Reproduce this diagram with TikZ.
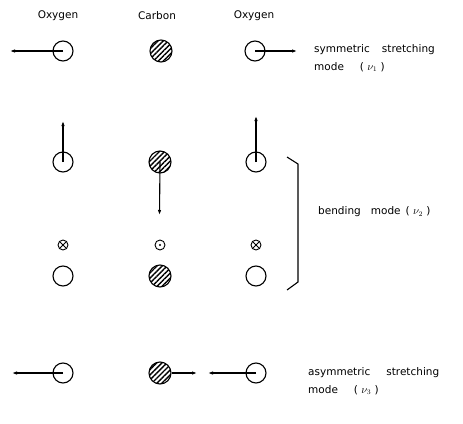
\documentclass[tikz,border=0pt]{standalone}
\usepackage{fontspec}
\setmainfont{DejaVu Sans}
\usetikzlibrary{arrows.meta,patterns.meta}
\tikzset{
  oxy/.style={circle,draw,line width=1.1pt,minimum size=20pt,inner sep=0pt},
  carb/.style={circle,draw,line width=1.1pt,minimum size=22pt,inner sep=0pt,
    pattern={Lines[angle=45,distance=3.6pt,line width=1.4pt]}},
  mark0/.style={circle,draw,line width=0.9pt,minimum size=10pt,inner sep=0pt},
  vec/.style={line width=1.1pt,-{Latex[length=5pt,width=3.5pt]}},
  lbl/.style={font=\fontsize{10.5}{12}\selectfont,inner sep=0pt},
  txt/.style={font=\fontsize{10.5}{12}\selectfont,inner sep=0pt,anchor=west}
}
\begin{document}
\begin{tikzpicture}[x=1pt,y=-1pt]
\useasboundingbox (0,0) rectangle (463,423);
% labels
\node[lbl] (l1) at (58,16) {Oxygen};
\node[lbl] (l2) at (157,16) {Carbon};
\node[lbl] (l3) at (254,16) {Oxygen};
% row 1
\node[oxy] (a1) at (63,51) {};
\node[carb] (a2) at (161,51) {};
\node[oxy] (a3) at (255,51) {};
\coordinate (a1e) at (10,51);
\coordinate (a3e) at (297,51);
\draw[vec] (a1.center) -- (a1e);
\draw[vec] (a3.center) -- (a3e);
\node[txt] (t1) at (314,50) {symmetric\hspace{12pt}stretching};
\node[txt] (t1b) at (314,67) {mode\hspace{16pt}( $\nu_1$ )};
% row 2
\node[oxy] (b1) at (63,162) {};
\node[carb] (b2) at (160,162) {};
\node[oxy] (b3) at (256,162) {};
\coordinate (b1e) at (63,121);
\coordinate (b2e) at (159.5,215);
\coordinate (b3e) at (256,116);
\draw[vec] (b1.center) -- (b1e);
\draw[vec] (b2.center) -- (b2e);
\draw[vec] (b3.center) -- (b3e);
\node[mark0] (m1) at (63,245) {};
\node[mark0] (m2) at (160,245) {};
\node[mark0] (m3) at (256,245) {};
\draw[line width=0.9pt] (m1.north east) -- (m1.south west) (m1.north west) -- (m1.south east);
\draw[line width=0.9pt] (m3.north east) -- (m3.south west) (m3.north west) -- (m3.south east);
\fill (m2.center) circle (1.2pt);
\node[oxy] (c1) at (63,276) {};
\node[carb] (c2) at (160,276) {};
\node[oxy] (c3) at (256,276) {};
% bracket
\coordinate (k1) at (287,157);
\coordinate (k2) at (298,164);
\coordinate (k3) at (298,282);
\coordinate (k4) at (287,290);
\draw[line width=1.1pt] (k1) -- (k2) -- (k3) -- (k4);
\node[txt] (t2) at (318,212) {bending\hspace{10pt}mode\hspace{5pt}( $\nu_2$ )};
% row 3
\node[oxy] (d1) at (63,373) {};
\node[carb] (d2) at (160,373) {};
\node[oxy] (d3) at (256,373) {};
\coordinate (d1e) at (12,373);
\coordinate (d2e) at (197,373);
\coordinate (d3e) at (208,373);
\draw[vec] (d1.center) -- (d1e);
\draw[vec] (d2.east) -- (d2e);
\draw[vec] (d3.center) -- (d3e);
\node[txt] (t3) at (308,373) {asymmetric\hspace{16pt}stretching};
\node[txt] (t3b) at (308,390) {mode\hspace{16pt}( $\nu_3$ )};
\end{tikzpicture}
\end{document}
